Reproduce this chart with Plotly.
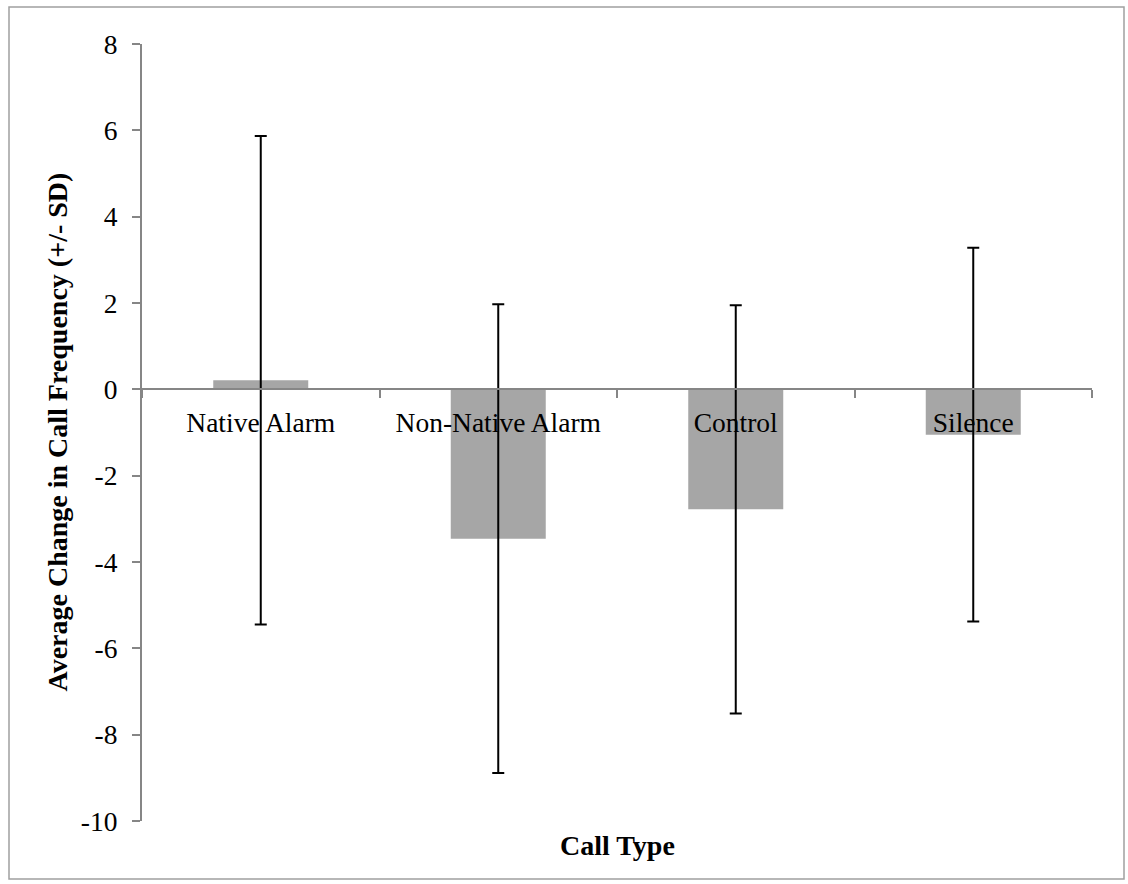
import plotly.graph_objects as go

# Mean change in call frequency per playback type, with standard deviations
call_types = ["Native Alarm", "Non-Native Alarm", "Control", "Silence"]
mean_change = [0.21, -3.46, -2.78, -1.05]
sd_change = [5.66, 5.43, 4.73, 4.33]
y_ticks = [8, 6, 4, 2, 0, -2, -4, -6, -8, -10]

W, H = 1128, 884
M_L, M_R, M_T, M_B = 142, 36, 44, 63
Y_MIN, Y_MAX = -10, 8

FONT = "Liberation Serif"
AXIS_GREY = "#868686"
TICK_SIZE = 27.5
TITLE_SIZE = 28

fig = go.Figure(
    go.Bar(
        x=call_types,
        y=mean_change,
        marker=dict(color="#A6A6A6", line=dict(width=0)),
        error_y=dict(
            type="data",
            array=sd_change,
            visible=True,
            color="black",
            thickness=2,
            width=6,
        ),
        showlegend=False,
    )
)

plot_w = W - M_L - M_R
plot_h = H - M_T - M_B
zero_pos = (0 - Y_MIN) / (Y_MAX - Y_MIN)

fig.update_layout(
    width=W,
    height=H,
    margin=dict(l=M_L, r=M_R, t=M_T, b=M_B, autoexpand=False),
    paper_bgcolor="white",
    plot_bgcolor="white",
    bargap=0.6,
    font=dict(family=FONT, size=TICK_SIZE, color="black"),
    xaxis=dict(
        type="category",
        anchor="free",
        position=zero_pos,
        showline=True,
        linecolor=AXIS_GREY,
        linewidth=2,
        ticks="outside",
        tickson="boundaries",
        ticklen=8,
        tickwidth=2,
        tickcolor=AXIS_GREY,
        showgrid=False,
        zeroline=False,
        tickfont=dict(family=FONT, size=TICK_SIZE, color="black"),
        ticklabelstandoff=9,
    ),
    yaxis=dict(
        range=[Y_MIN, Y_MAX],
        tickvals=y_ticks,
        ticktext=[str(v) for v in y_ticks],
        showline=True,
        linecolor=AXIS_GREY,
        linewidth=2,
        ticks="outside",
        ticklen=8,
        tickwidth=2,
        tickcolor=AXIS_GREY,
        showgrid=False,
        zeroline=False,
        tickfont=dict(family=FONT, size=TICK_SIZE, color="black"),
        ticklabelstandoff=9,
    ),
)

# Axis titles
fig.add_annotation(
    text="<b>Average Change in Call Frequency (+/- SD)</b>",
    xref="paper", yref="paper",
    x=(57 - M_L) / plot_w, y=0.5,
    xanchor="center", yanchor="middle",
    textangle=-90, showarrow=False,
    font=dict(family=FONT, size=TITLE_SIZE, color="black"),
)
fig.add_annotation(
    text="<b>Call Type</b>",
    xref="paper", yref="paper",
    x=0.5, y=(H - M_B - 845) / plot_h,
    xanchor="center", yanchor="middle",
    showarrow=False,
    font=dict(family=FONT, size=TITLE_SIZE, color="black"),
)

# Chart-area frame
fig.add_shape(
    type="rect", xref="paper", yref="paper",
    x0=(9 - M_L) / plot_w, x1=(1124 - M_L) / plot_w,
    y0=(H - M_B - 879) / plot_h, y1=1 + (M_T - 7) / plot_h,
    line=dict(color="#A0A0A0", width=1.5),
    fillcolor="rgba(0,0,0,0)",
    layer="below",
)

fig.write_html("out.html")
